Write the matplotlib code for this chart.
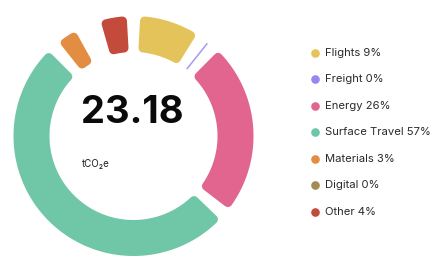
import numpy as np
import matplotlib.pyplot as plt
from matplotlib.patches import Polygon

# categories and shares (%) as shown in the legend
categories = ['Flights', 'Freight', 'Energy', 'Surface Travel', 'Materials', 'Digital', 'Other']
shares = [9, 0, 26, 57, 3, 0, 4]
colors = ['#e4c35a', '#9a86ee', '#e26590', '#70c7a7', '#e38d42', '#a28b56', '#c44b3c']
total_label = '23.18'
unit_label = 'tCO₂e'

W, H = 442, 270
fig = plt.figure(figsize=(W / 100, H / 100), dpi=100)
ax = fig.add_axes([0, 0, 1, 1])
ax.set_xlim(0, W)
ax.set_ylim(H, 0)
ax.axis('off')

# ring geometry (pixel coords, y down)
cx, cy = 133.5, 136
r_out, r_in = 120, 84
gap = 6.5          # degrees between segments
rc = 4.5           # corner radius in px
px2pt = 72 / 100


def pt(r, deg):
    a = np.radians(deg)
    return cx + r * np.sin(a), cy - r * np.cos(a)


span = 360 - gap * len(shares)
start = gap / 2
for val, col, cat in zip(shares, colors, categories):
    width = span * val / sum(shares)
    t1, t2 = start, start + width
    if val == 0:
        # freight shows as a hairline, digital is not drawn
        if cat == 'Freight':
            x0, y0 = pt(r_in + 2, t1 + 0.2)
            x1, y1 = pt(r_out - 2, t1 + 0.2)
            ax.plot([x0, x1], [y0, y1], color=col, lw=1.1, alpha=0.85,
                    solid_capstyle='round')
        start = t2 + gap
        continue
    ro, ri = r_out - rc, r_in + rc
    do = np.degrees(np.arcsin(rc / ro))
    di = np.degrees(np.arcsin(rc / ri))
    outer = [pt(ro, a) for a in np.linspace(t1 + do, t2 - do, 80)]
    inner = [pt(ri, a) for a in np.linspace(t2 - di, t1 + di, 80)]
    poly = Polygon(outer + inner, closed=True, facecolor=col, edgecolor=col,
                   lw=2 * rc * px2pt, joinstyle='round')
    ax.add_patch(poly)
    start = t2 + gap

# centre text
ax.text(81, 113, total_label, fontsize=27.5, fontweight='bold', family='Inter',
        color='#0a0a0a', ha='left', va='center')
ax.text(82, 164, unit_label, fontsize=7, family='Inter', color='#222222',
        ha='left', va='center')

# legend
ly0, dy = 52.7, 26.5
for i, (cat, val, col) in enumerate(zip(categories, shares, colors)):
    y = ly0 + i * dy
    ax.plot(315, y, 'o', ms=6.2, color=col, mec='none')
    ax.text(325, y, f'{cat} {val}%', fontsize=8.1, family='Inter',
            color='#2a2a2a', ha='left', va='center')

fig.savefig('out.png', dpi=100)
